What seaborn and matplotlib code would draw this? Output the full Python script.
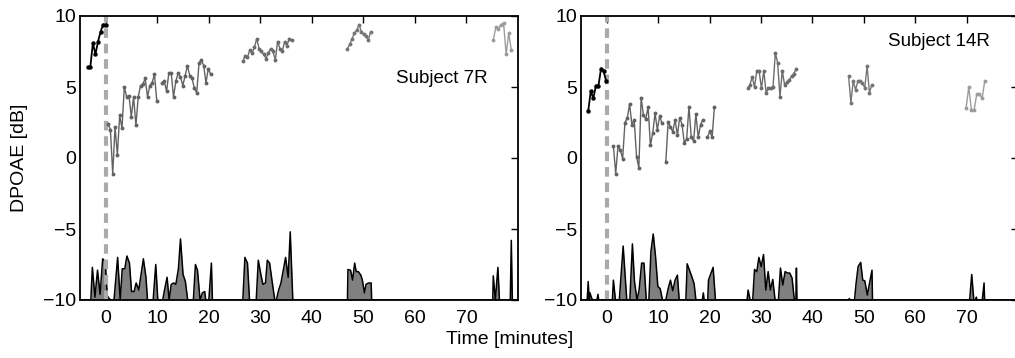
import numpy as np
import pandas as pd
import matplotlib
matplotlib.use('Agg')
import matplotlib.pyplot as plt
import seaborn as sns

# DPOAE level per measurement, one list per recording block
# (start time in minutes, spacing in minutes, values in dB)
s7_pre_t0, s7_pre_dt = -3.5, 0.5
s7_pre = [6.4, 6.4, 8.1, 7.3, 8.2, 8.9, 9.4, 9.4]
s7_a_t0, s7_a_dt = 0.45, 0.45
s7_a = [2.4, 2.0, -1.1, 2.2, 0.2, 3.0, 2.1, 5.0, 4.3, 4.4, 2.9,
        4.3, 2.3, 4.3, 5.1, 5.2, 5.6, 4.3, 5.1, 5.3, 5.9, 4.0]
s7_b_t0, s7_b_dt = 10.9, 0.45
s7_b = [5.3, 5.4, 4.7, 6.0, 6.0, 4.3, 5.4, 6.0, 5.7, 5.1, 5.8,
        6.5, 5.8, 5.6, 4.9, 4.6, 6.7, 6.9, 6.5, 5.3, 6.3, 5.9]
s7_c_t0, s7_c_dt = 26.6, 0.45
s7_c = [6.8, 7.2, 7.1, 7.6, 7.4, 7.8, 8.4, 7.7, 7.5, 7.3, 7.0,
        7.4, 7.7, 7.5, 6.9, 8.2, 7.7, 7.5, 8.2, 7.9, 8.4, 8.3]
s7_d_t0, s7_d_dt = 46.9, 0.45
s7_d = [7.7, 8.0, 8.4, 8.8, 9.0, 9.4, 8.9, 8.7, 8.6, 8.3, 8.9]
s7_e_t0, s7_e_dt = 75.2, 0.5
s7_e = [8.3, 9.2, 9.1, 9.4, 9.5, 7.3, 8.8, 7.6]

s14_pre_t0, s14_pre_dt = -3.6, 0.5
s14_pre = [3.3, 4.7, 4.2, 5.1, 5.1, 6.3, 6.1, 5.4]
s14_a_t0, s14_a_dt = 1.3, 0.45
s14_a = [0.85, -1.1, 0.85, 0.55, -0.05, 2.5, 2.8, 3.8, 2.35, 2.7, 0.1,
         -0.7, 4.25, 3.0, 2.75, 3.6, 0.9, 1.75, 3.15, 2.0, 2.95, 2.45]
s14_b_t0, s14_b_dt = 11.5, 0.45
s14_b = [-0.25, 2.55, 2.2, 1.85, 2.7, 1.6, 2.85, 2.35, 1.05, 1.35, 3.6,
         1.45, 1.2, 3.1, 1.45, 2.35, 2.7]
s14_c_t0, s14_c_dt = 19.6, 0.45
s14_c = [1.45, 1.9, 1.45, 3.6]
s14_d_t0, s14_d_dt = 27.4, 0.45
s14_d = [4.9, 5.15, 5.7, 5.0, 6.15, 6.1, 4.9, 6.15, 4.6, 4.9, 4.95,
         5.0, 7.4, 6.7, 4.3, 6.15, 5.15, 5.35, 5.5, 5.75, 5.95, 6.25]
s14_e_t0, s14_e_dt = 47.05, 0.45
s14_e = [5.75, 3.9, 5.45, 4.8, 5.4, 5.45, 5.25, 4.95, 6.5, 4.6, 5.15]
s14_f_t0, s14_f_dt = 69.9, 0.52
s14_f = [3.5, 5.0, 3.4, 3.4, 4.5, 4.5, 4.2, 5.45]

# noise floor outline (time, dB)
s7_noise_t = [-5, -2.9, -2.6, -2.1, -1.6, -1.1, -0.6, -0.1, 0.3, 0.65, 1.0,
              1.6, 2.3, 2.8, 3.2, 3.7, 4.1, 4.6, 5.0, 5.5, 5.9, 6.4, 6.85,
              7.3, 7.8, 8.1, 9.2, 9.7, 10.1, 11.05, 11.4, 11.9, 12.3, 12.7,
              13.2, 13.6, 14.1, 14.5, 15.0, 15.45, 15.9, 17.0, 17.4, 17.8,
              18.3, 18.75, 19.2, 19.4, 20.0, 20.5, 20.7, 26.6, 27.0, 27.5,
              27.9, 29.2, 29.6, 30.1, 30.5, 31.0, 31.35, 31.8, 32.25, 32.8,
              33.1, 33.55, 34.0, 34.45, 34.9, 35.4, 35.8, 36.3, 46.9, 47.0,
              47.5, 47.9, 48.3, 48.6, 49.0, 49.5, 49.8, 50.2, 50.5, 51.0,
              51.5, 51.6, 75.1, 75.2, 75.6, 76.1, 76.4, 78.5, 78.7, 78.9, 80]
s7_noise_v = [-10, -10, -7.7, -9.8, -7.9, -9.6, -7.1, -7.3, -9.7, -9.9, -10,
              -10, -7.0, -10, -7.8, -7.8, -6.9, -7.4, -9.4, -9.4, -8.8, -9.3,
              -8.2, -7.1, -8.4, -10, -10, -7.5, -10, -10, -9.3, -8.4, -10,
              -8.9, -8.8, -8.9, -7.8, -5.7, -8.2, -8.7, -10, -10, -7.5, -7.9,
              -10, -9.5, -9.4, -10, -10, -7.4, -10, -10, -7.0, -7.4, -10,
              -10, -7.2, -8.2, -8.9, -8.8, -7.2, -7.4, -8.6, -10, -10, -9.3,
              -8.8, -7.9, -7.0, -8.4, -5.2, -10, -10, -7.85, -7.9, -8.6,
              -7.4, -8.0, -8.0, -8.25, -8.6, -9.5, -8.9, -8.8, -8.8, -10,
              -10, -8.3, -10, -7.7, -10, -10, -5.8, -10, -10]

s14_noise_t = [-5, -3.8, -3.6, -3.4, -3.25, -3.0, -2.75, -1.9, -1.7, -1.55,
               1.1, 1.3, 1.7, 2.45, 3.2, 3.9, 4.5, 5.0, 5.4, 5.9, 6.3, 6.8,
               7.25, 7.7, 8.2, 8.6, 9.05, 9.5, 9.95, 10.4, 10.85, 11.5, 11.95,
               12.4, 12.85, 13.3, 13.75, 14.1, 15.4, 15.65, 16.1, 16.55, 17.0,
               17.35, 18.6, 18.8, 18.95, 19.65, 19.8, 20.25, 20.7, 21.15, 27.3,
               27.5, 27.9, 28.4, 28.75, 29.2, 29.6, 30.05, 30.5, 30.95, 31.4,
               31.85, 32.3, 32.75, 33.4, 33.8, 34.25, 34.7, 35.15, 35.6, 36.05,
               36.5, 36.8, 36.9, 37.0, 47.0, 47.2, 47.4, 48.2, 48.5, 48.9,
               49.4, 49.8, 50.2, 50.7, 51.1, 51.6, 51.7, 70.6, 71.0, 71.4,
               71.8, 71.9, 72.0, 73.05, 73.4, 73.5, 80]
s14_noise_v = [-10, -10, -8.7, -10, -9.5, -9.8, -10, -10, -9.6, -10,
               -10, -8.6, -10, -10, -6.2, -10, -10, -6.05, -8.7, -10, -9.3,
               -7.4, -7.4, -10, -10, -6.6, -5.35, -6.95, -9.05, -9.2, -10, -10,
               -9.2, -8.6, -9.35, -8.6, -8.25, -10, -10, -7.45, -7.9, -8.35,
               -8.85, -10, -10, -9.5, -10, -10, -8.6, -8.15, -7.7, -10, -10,
               -9.3, -10, -10, -7.85, -8.0, -7.0, -7.65, -6.8, -9.3, -8.0,
               -9.3, -8.55, -10, -10, -7.75, -8.95, -8.0, -8.1, -8.1, -8.45,
               -10, -10, -7.75, -10, -10, -9.9, -10, -10, -8.85, -7.65,
               -7.35, -8.6, -8.65, -9.65, -8.85, -7.9, -10, -10, -8.2, -10,
               -10, -9.8, -10, -10, -8.8, -10, -10]

panel_titles = ['Subject 7R', 'Subject 14R']

sns.set_theme(style='white')
plt.rcParams['font.family'] = ['Liberation Sans', 'DejaVu Sans']
plt.rcParams['text.color'] = 'black'
plt.rcParams['axes.labelcolor'] = 'black'
plt.rcParams['xtick.color'] = 'black'
plt.rcParams['ytick.color'] = 'black'
plt.rcParams['xtick.direction'] = 'in'
plt.rcParams['ytick.direction'] = 'in'


def block(ax, t0, dt, vals, color, lw=1.0, ms=3.0):
    t = t0 + dt * np.arange(len(vals))
    d = pd.DataFrame({'t': t, 'v': vals})
    sns.lineplot(data=d, x='t', y='v', ax=ax, color=color, lw=lw,
                 marker='o', markersize=ms, markeredgewidth=0,
                 sort=False, errorbar=None, zorder=3)


fig = plt.figure(figsize=(10.15, 3.58), dpi=100)
ax1 = fig.add_axes([80 / 1015, 58 / 358, 438 / 1015, 284 / 358])
ax2 = fig.add_axes([581 / 1015, 58 / 358, 437 / 1015, 284 / 358])

panels = [
    (ax1, [(s7_pre_t0, s7_pre_dt, s7_pre, 'black'),
           (s7_a_t0, s7_a_dt, s7_a, '#626262'),
           (s7_b_t0, s7_b_dt, s7_b, '#626262'),
           (s7_c_t0, s7_c_dt, s7_c, '#6c6c6c'),
           (s7_d_t0, s7_d_dt, s7_d, '#767676'),
           (s7_e_t0, s7_e_dt, s7_e, '#9c9c9c')],
     s7_noise_t, s7_noise_v, panel_titles[0], (65.2, 5.6)),
    (ax2, [(s14_pre_t0, s14_pre_dt, s14_pre, 'black'),
           (s14_a_t0, s14_a_dt, s14_a, '#626262'),
           (s14_b_t0, s14_b_dt, s14_b, '#626262'),
           (s14_c_t0, s14_c_dt, s14_c, '#626262'),
           (s14_d_t0, s14_d_dt, s14_d, '#6c6c6c'),
           (s14_e_t0, s14_e_dt, s14_e, '#767676'),
           (s14_f_t0, s14_f_dt, s14_f, '#9c9c9c')],
     s14_noise_t, s14_noise_v, panel_titles[1], (64.7, 8.2)),
]

for ax, blocks, nt, nv, title, pos in panels:
    # noise floor
    ax.fill_between(nt, -10, nv, color='#808080', lw=0, zorder=1)
    ax.plot(nt, nv, color='black', lw=1.1, zorder=2)
    # onset marker
    ax.axvline(0, color='#aaaaaa', lw=3, ls=(0, (2.3, 1.4)), zorder=2)
    for t0, dt, vals, c in blocks:
        if c == 'black':
            block(ax, t0, dt, vals, c, lw=1.3, ms=3.2)
        else:
            block(ax, t0, dt, vals, c, lw=1.0, ms=2.8)
    ax.text(pos[0], pos[1], title, ha='center', va='center', fontsize=13.5)

    ax.set_xlim(-5, 80)
    ax.set_ylim(-10, 10)
    ax.set_xticks(range(0, 80, 10))
    ax.set_yticks([-10, -5, 0, 5, 10])
    ax.set_yticklabels(['\u221210', '\u22125', '0', '5', '10'])
    ax.tick_params(axis='both', which='both', direction='in', length=5,
                   width=1, labelsize=14, top=True, right=True, pad=3,
                   colors='black')
    ax.tick_params(axis='x', pad=7)
    for s in ax.spines.values():
        s.set_visible(True)
        s.set_color('black')
        s.set_linewidth(1.3)
    ax.set_xlabel('')
    ax.set_ylabel('')
    ax.grid(False)

fig.text(20 / 1015, 1 - 158 / 358, 'DPOAE [dB]', rotation=90,
         ha='center', va='center', fontsize=14)
fig.text(510 / 1015, 1 - 340 / 358, 'Time [minutes]', ha='center',
         va='center', fontsize=14)

fig.savefig('out.png', dpi=100, facecolor='white')
